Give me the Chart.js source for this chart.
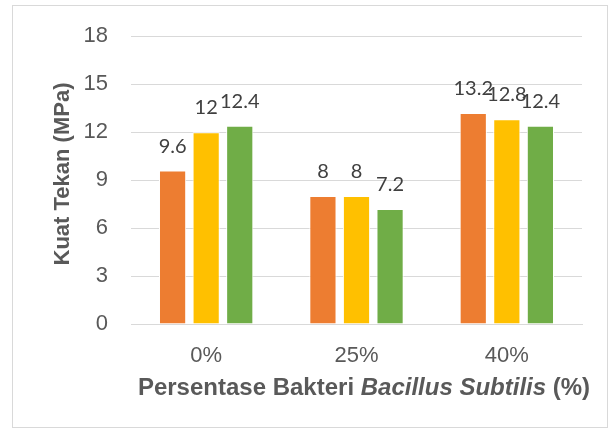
<!DOCTYPE html>
<html>
<head>
<meta charset="utf-8">
<script src="https://cdn.jsdelivr.net/npm/chart.js@4"></script>
<style>
  body { margin: 0; background: #fff; }
  #wrap { position: absolute; left: 0; top: 0; width: 612px; height: 432px; }
  #frame { position: absolute; left: 12px; top: 5px; width: 594px; height: 421px; border: 1px solid #d9d9d9; }
</style>
</head>
<body>
<div id="wrap">
  <div id="frame"></div>
  <canvas id="chart1" width="612" height="432"></canvas>
</div>
<script>
const categories = ['0%', '25%', '40%'];

const series1 = [9.6, 8, 13.2];
const series2 = [12, 8, 12.8];
const series3 = [12.4, 7.2, 12.4];

const yTicks = [0, 3, 6, 9, 12, 15, 18];

const barColors = ['#ED7D31', '#FFC000', '#70AD47'];

const yTitleText = 'Kuat Tekan (MPa)';
const xTitleParts = [
  { text: 'Persentase Bakteri ', style: 'bold' },
  { text: 'Bacillus Subtilis', style: 'italic bold' },
  { text: ' (%)', style: 'bold' },
];

const axisFont = '"Liberation Sans", Arial, sans-serif';

// value labels above each bar
const barLabels = {
  id: 'barLabels',
  afterDatasetsDraw(chart) {
    const ctx = chart.ctx;
    ctx.save();
    ctx.font = '20px Lato, "Open Sans", sans-serif';
    ctx.fillStyle = '#404040';
    ctx.textAlign = 'center';
    ctx.textBaseline = 'alphabetic';
    chart.data.datasets.forEach((ds, i) => {
      chart.getDatasetMeta(i).data.forEach((bar, j) => {
        ctx.fillText(String(ds.data[j]), bar.x, bar.y - 18);
      });
    });
    ctx.restore();
  }
};

// axis titles (x one has the italic species name)
const axisTitles = {
  id: 'axisTitles',
  afterDraw(chart) {
    const ctx = chart.ctx;
    ctx.save();
    ctx.fillStyle = '#595959';
    ctx.textBaseline = 'middle';

    // y title
    ctx.save();
    ctx.font = 'bold 22px ' + axisFont;
    ctx.textAlign = 'center';
    ctx.translate(63, 174);
    ctx.rotate(-Math.PI / 2);
    ctx.fillText(yTitleText, 0, 0);
    ctx.restore();

    let total = 0;
    xTitleParts.forEach(p => {
      ctx.font = p.style + ' 24px ' + axisFont;
      total += ctx.measureText(p.text).width;
    });
    let x = 364 - total / 2;
    const y = 388;
    xTitleParts.forEach(p => {
      ctx.font = p.style + ' 24px ' + axisFont;
      ctx.fillText(p.text, x, y);
      x += ctx.measureText(p.text).width;
    });
    ctx.restore();
  }
};

const data = {
  labels: categories,
  datasets: [
    { label: 'A', data: series1, backgroundColor: barColors[0] },
    { label: 'B', data: series2, backgroundColor: barColors[1] },
    { label: 'C', data: series3, backgroundColor: barColors[2] },
  ].map(d => Object.assign(d, {
    borderColor: '#ffffff', borderWidth: 1,
    categoryPercentage: 0.67, barPercentage: 0.81
  }))
};

const config = {
  type: 'bar',
  data: data,
  options: {
    responsive: false,
    animation: false,
    layout: { padding: { left: 45, right: 30, top: 30, bottom: 66 } },
    plugins: { legend: { display: false }, tooltip: { enabled: false } },
    scales: {
      x: {
        afterFit: s => { s.height = 42; },
        grid: { display: false },
        border: { color: '#d9d9d9' },
        ticks: {
          color: '#595959',
          font: { family: axisFont, size: 22 },
          padding: 11,
          maxRotation: 0
        }
      },
      y: {
        min: 0, max: 18,
        afterFit: s => { s.width = 86; },
        afterBuildTicks: s => { s.ticks = yTicks.map(v => ({ value: v })); },
        grid: { color: '#d9d9d9', drawTicks: false },
        border: { display: false },
        ticks: {
          color: '#595959',
          font: { family: axisFont, size: 22 },
          padding: 23
        }
      }
    }
  },
  plugins: [barLabels, axisTitles]
};

const myChart = new Chart(document.getElementById('chart1'), config);
</script>
</body>
</html>
